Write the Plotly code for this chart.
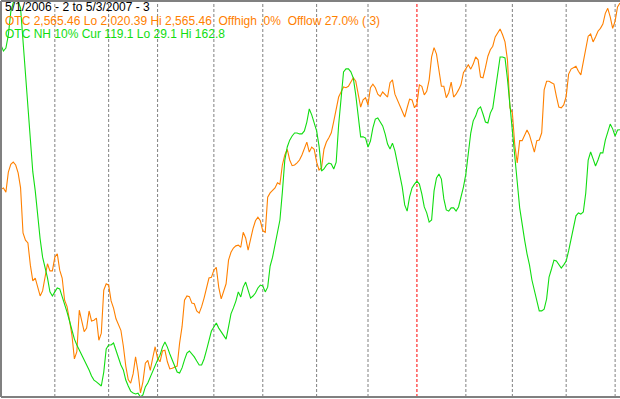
import pandas as pd
import plotly.graph_objects as go

# ---------------- data ----------------
start_date = "2006-05-01"
end_date = "2007-05-03"
market_holidays = ["2006-05-29", "2006-07-04", "2006-09-04", "2006-11-23", "2006-12-25",
                   "2007-01-01", "2007-01-02", "2007-01-15", "2007-02-19", "2007-04-06"]

# OTC (Nasdaq) composite close, one value per session
otc_close = [
    2305, 2307, 2301, 2329, 2340, 2343, 2339, 2328, 2307, 2244,
    2234, 2230, 2199, 2177, 2181, 2168, 2156, 2163, 2185, 2201,
    2191, 2191, 2210, 2215, 2192, 2181, 2150, 2141, 2122, 2101,
    2068, 2078, 2136, 2122, 2106, 2111, 2135, 2121, 2122, 2125,
    2094, 2104, 2164, 2173, 2171, 2149, 2139, 2124, 2115, 2108,
    2086, 2058, 2039, 2034, 2047, 2071, 2050, 2020.39, 2036, 2062,
    2066, 2052, 2069, 2085, 2069, 2064, 2079, 2080, 2064, 2054,
    2055, 2057, 2058, 2090, 2113, 2150, 2156, 2155, 2146, 2145,
    2135, 2132, 2141, 2153, 2168, 2181, 2182, 2192, 2196, 2168,
    2152, 2162, 2173, 2206, 2217, 2223, 2226, 2227, 2224, 2245,
    2237, 2220, 2236, 2250, 2261, 2266, 2261, 2247, 2245, 2294,
    2300, 2303, 2307, 2314, 2312, 2339, 2353, 2361, 2346, 2338,
    2339, 2342, 2346, 2353, 2361, 2371, 2357, 2364, 2361, 2343,
    2332, 2335, 2361, 2371, 2377, 2384, 2400, 2419, 2434, 2441,
    2448, 2447, 2449, 2455, 2461, 2456, 2438, 2420, 2430, 2433,
    2423, 2447, 2452, 2447, 2438, 2435, 2441, 2438, 2434, 2454,
    2458, 2438, 2430, 2423, 2413, 2406, 2419, 2431, 2430, 2419,
    2424, 2451, 2449, 2437, 2442, 2458, 2490, 2503, 2494, 2470,
    2449, 2449, 2433, 2440, 2455, 2434, 2438, 2444, 2451, 2468,
    2473, 2479, 2473, 2480, 2490, 2486, 2462, 2461, 2475, 2491,
    2500, 2505, 2518, 2523, 2529, 2521, 2511, 2486, 2419, 2412,
    2367, 2342, 2373, 2373, 2381, 2388, 2381, 2368, 2357, 2373,
    2374, 2384, 2444, 2456, 2456, 2454, 2452, 2435, 2420, 2419,
    2423, 2435, 2466, 2473, 2475, 2477, 2470, 2465, 2483, 2500,
    2519, 2522, 2511, 2518, 2526, 2530, 2536, 2551, 2558, 2546,
    2530, 2540, 2560, 2565.46,
]

# OTC new highs, 10-day smoothed
nh_10pct = [
    147.6, 145.6, 146.6, 151.0, 158.8, 161.9, 162.8, 162.3, 160.1, 149.3,
    138.2, 125.8, 114.0, 104.9, 98.5, 90.1, 82.3, 76.2, 72.9, 69.2,
    64.5, 63.1, 64.5, 65.8, 65.5, 63.1, 60.1, 57.7, 54.7, 51.3,
    48.6, 46.6, 44.9, 43.6, 41.9, 40.2, 38.2, 36.2, 34.8, 34.2,
    33.5, 32.8, 37.5, 45.3, 46.6, 46.6, 47.3, 44.9, 42.2, 39.9,
    38.2, 34.8, 32.8, 31.1, 30.4, 30.1, 30.4, 29.1, 29.8, 32.5,
    33.8, 35.8, 38.2, 39.9, 41.6, 43.2, 45.9, 47.6, 45.9, 43.6,
    41.6, 39.5, 37.5, 37.2, 38.9, 41.6, 43.9, 44.6, 43.6, 42.6,
    41.2, 39.9, 39.9, 41.9, 44.9, 48.3, 51.3, 52.7, 54.0, 52.3,
    51.0, 49.6, 48.6, 52.7, 57.1, 59.1, 61.4, 64.5, 62.8, 66.1,
    67.8, 65.1, 62.4, 63.1, 64.1, 65.8, 66.8, 66.5, 64.5, 66.1,
    73.2, 76.2, 80.3, 85.0, 88.7, 98.1, 108.9, 113.3, 115.6, 117.0,
    118.0, 118.0, 117.7, 117.7, 118.7, 121.7, 126.1, 124.1, 121.7, 118.7,
    113.6, 105.2, 105.9, 107.2, 107.9, 107.6, 105.9, 108.2, 120.7, 130.5,
    138.6, 139.6, 139.6, 138.6, 136.5, 130.8, 123.4, 116.7, 116.7, 116.3,
    113.3, 115.3, 119.7, 122.7, 123.1, 121.7, 120.4, 117.7, 114.3, 112.6,
    114.6, 112.0, 108.2, 103.5, 99.8, 93.8, 91.7, 96.5, 99.5, 100.8,
    101.8, 100.8, 97.5, 93.1, 91.1, 88.0, 88.7, 98.5, 102.9, 104.2,
    102.5, 95.8, 92.1, 91.7, 92.8, 92.8, 91.7, 93.1, 96.1, 99.8,
    104.2, 112.0, 118.0, 122.1, 123.7, 126.1, 126.8, 124.4, 121.7, 121.4,
    124.7, 126.4, 132.2, 139.2, 143.6, 143.6, 143.3, 136.2, 128.1, 119.7,
    109.9, 101.5, 92.8, 86.7, 82.0, 77.3, 73.6, 68.5, 64.8, 62.1,
    58.1, 58.1, 58.7, 62.1, 69.5, 72.2, 75.2, 74.9, 73.6, 72.5,
    73.6, 74.9, 78.3, 82.3, 86.7, 90.1, 91.1, 90.7, 91.4, 97.8,
    108.9, 111.6, 109.3, 106.9, 108.9, 111.3, 111.3, 115.6, 118.3, 121.0,
    119.4, 117.0, 119.0, 119.1,
]

header_text = "5/1/2006 - 2 to 5/3/2007 - 3"
otc_text = ("OTC 2,565.46 Lo 2,020.39 Hi 2,565.46\u00a0\u00a0Offhigh .0%"
            "\u00a0\u00a0Offlow 27.0% (\u00a03)")
nh_text = "OTC NH 10% Cur 119.1 Lo 29.1 Hi 162.8"

# ---------------- figure ----------------
ORANGE = "#FF8000"
GREEN = "#11DD11"
GRAY = "#808080"

days = pd.bdate_range(start_date, end_date)
days = days[~days.isin(pd.to_datetime(market_holidays))]
assert len(days) == len(otc_close) == len(nh_10pct)
session = list(range(len(days)))
month_starts = [i for i in range(1, len(days)) if days[i].month != days[i - 1].month]

fig = go.Figure()
fig.add_trace(go.Scatter(x=session, y=otc_close, mode="lines", yaxis="y",
                         line=dict(color=ORANGE, width=1.1), hoverinfo="skip"))
fig.add_trace(go.Scatter(x=session, y=nh_10pct, mode="lines", yaxis="y2",
                         line=dict(color=GREEN, width=1.1), hoverinfo="skip"))

shapes = []
for i in month_starts:
    col = "#FF0000" if days[i].month == 1 else GRAY
    shapes.append(dict(type="line", xref="x", yref="paper", x0=i, x1=i, y0=0, y1=1,
                       line=dict(color=col, width=1, dash="3px,2px"), layer="below"))
# frame: left, top and bottom edges only
for x0, x1, y0, y1 in [(0, 0, 0, 1), (0, 1, 1, 1), (0, 1, 0, 0)]:
    shapes.append(dict(type="line", xref="paper", yref="paper", x0=x0, x1=x1, y0=y0, y1=y1,
                       line=dict(color=GRAY, width=2), layer="above"))

font_family = "Liberation Sans, Arial, sans-serif"
annotations = [
    dict(text=header_text, color="#000000", shift=3),
    dict(text=otc_text, color=ORANGE, shift=-11),
    dict(text=nh_text, color=GREEN, shift=-24),
]
ann = [dict(xref="paper", yref="paper", x=0, y=1, xanchor="left", yanchor="top",
            xshift=2, yshift=a["shift"], showarrow=False, text=a["text"],
            font=dict(family=font_family, size=12, color=a["color"])) for a in annotations]

fig.update_layout(
    width=620, height=399,
    margin=dict(l=1, r=0, t=1, b=2),
    paper_bgcolor="white", plot_bgcolor="white",
    showlegend=False,
    xaxis=dict(range=[0, len(session) - 1], showgrid=False, zeroline=False,
               showticklabels=False, ticks=""),
    yaxis=dict(range=[2014.75, 2568.2], showgrid=False, zeroline=False,
               showticklabels=False, ticks=""),
    yaxis2=dict(range=[29.1, 162.46], overlaying="y", showgrid=False, zeroline=False,
                showticklabels=False, ticks=""),
    shapes=shapes,
    annotations=ann,
)

fig.write_html("out.html", config={"displayModeBar": False})
